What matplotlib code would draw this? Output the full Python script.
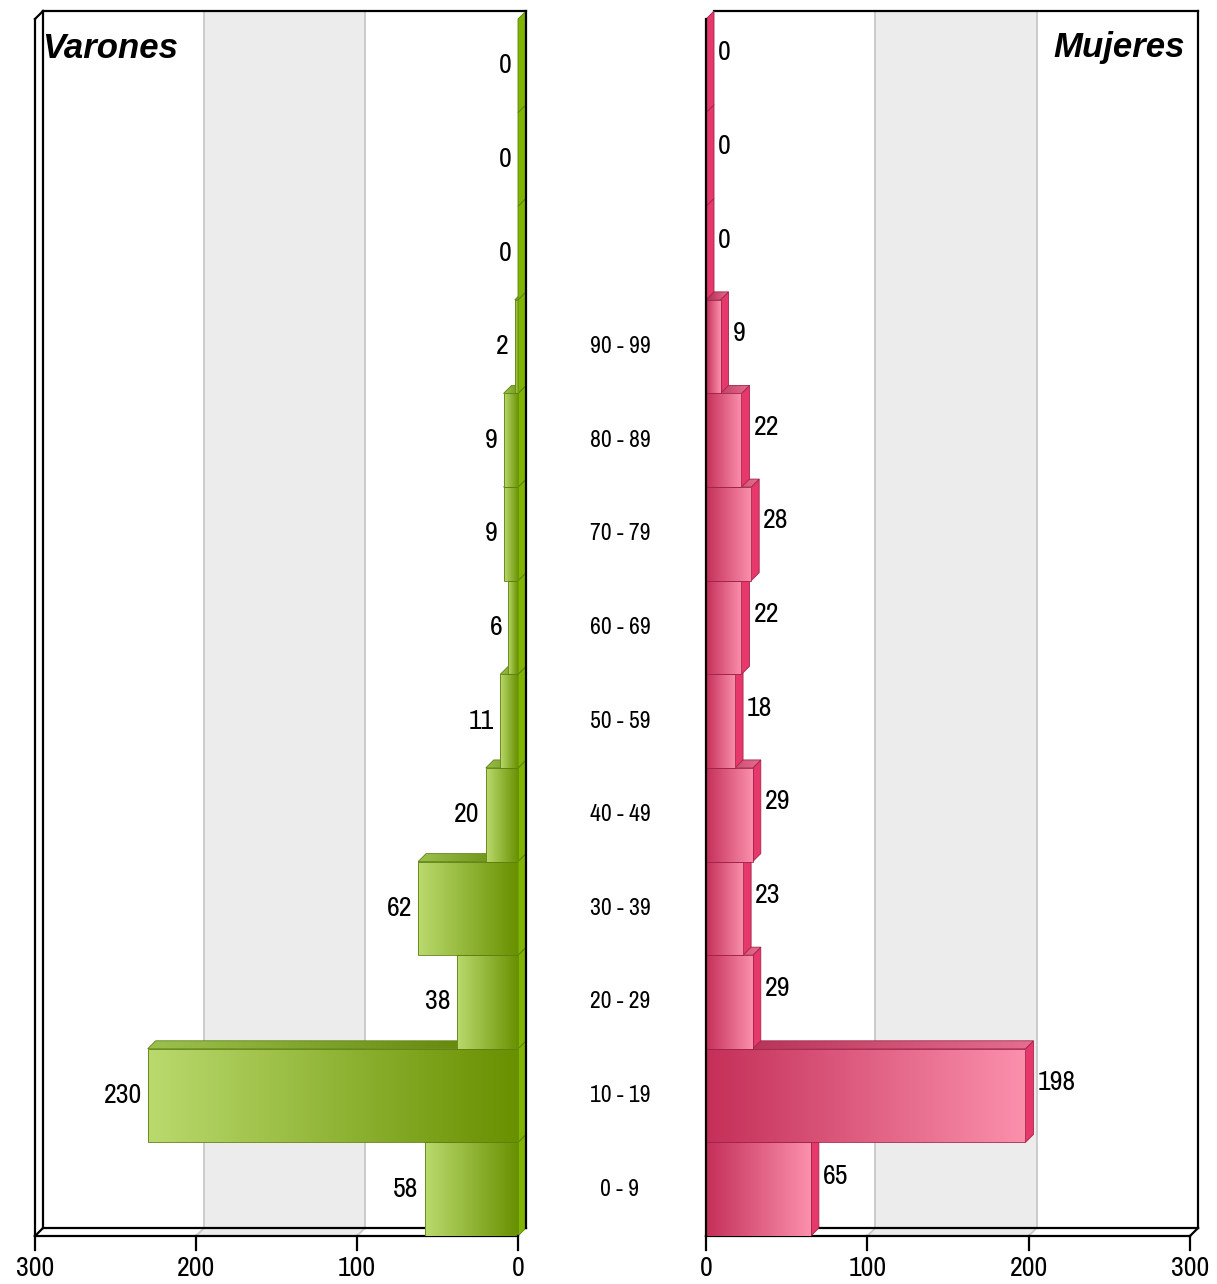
import numpy as np
import matplotlib
matplotlib.use("Agg")
import matplotlib.pyplot as plt
from matplotlib import font_manager
from matplotlib.font_manager import FontProperties
from matplotlib.patches import Polygon, Rectangle
from matplotlib.colors import to_rgb

# ---------------- data ----------------
categories = ['0 - 9', '10 - 19', '20 - 29', '30 - 39', '40 - 49', '50 - 59',
              '60 - 69', '70 - 79', '80 - 89', '90 - 99', '', '', '']
varones = [58, 230, 38, 62, 20, 11, 6, 9, 9, 2, 0, 0, 0]
mujeres = [65, 198, 29, 23, 29, 18, 22, 28, 22, 9, 0, 0, 0]
x_ticks = [0, 100, 200, 300]
title_left = 'Varones'
title_right = 'Mujeres'

# ---------------- fonts ----------------
entries = font_manager.fontManager.ttflist


def pick_font():
    bad = ('Serif', 'Mono', 'CJK')
    for f in entries:
        if f.name == 'Liberation Sans Narrow':
            return f.name, 'normal'
    for f in entries:
        if ('Narrow' in f.name) and not any(b in f.name for b in bad):
            return f.name, 'normal'
    for f in entries:
        if 'Condensed' in f.name and not any(b in f.name for b in bad):
            return f.name, 'normal'
    for f in entries:
        if str(f.stretch) in ('condensed', 'semi-condensed', 'extra-condensed') and \
                not any(b in f.name for b in bad):
            return f.name, str(f.stretch)
    return None, None


fam, stretch = pick_font()
NARROW = fam is not None
if NARROW:
    FAMILY = [fam, 'DejaVu Sans']
else:
    FAMILY = ['Liberation Sans', 'DejaVu Sans']
    stretch = 'normal'
plt.rcParams['font.family'] = FAMILY


def fp(size, weight='normal', style='normal'):
    return FontProperties(family=FAMILY, size=size, weight=weight, style=style, stretch=stretch)


VAL_FS = 20 if NARROW else 17
CAT_FS = 17 if NARROW else 14
TICK_FS = 20 if NARROW else 17
TITLE_PROPS = FontProperties(family=['Liberation Sans', 'DejaVu Sans'], size=25,
                             weight='bold', style='italic')

W, H = 1217, 1284
fig = plt.figure(figsize=(W / 100, H / 100), dpi=100)
fig.patch.set_facecolor('white')

FRONT_TOP, FRONT_BOT = 19, 1236
DEPTH = 8
NROWS = len(categories)
ROWPX = (FRONT_BOT - FRONT_TOP) / NROWS


def add_ax(x0, x1, y0, y1):
    return fig.add_axes([x0 / W, 1 - y1 / H, (x1 - x0) / W, (y1 - y0) / H])


def grad_img(c0, c1, n=256):
    a = np.array(to_rgb(c0)); b = np.array(to_rgb(c1))
    t = np.linspace(0, 1, n)[:, None]
    return (a * (1 - t) + b * t)[None, :, :]


def draw_panel(ax, values, side, front_c, top_c, side_c, edge_c):
    x0px, x1px = (35, 518) if side == 'left' else (706, 1190)
    ppu = (x1px - x0px) / 300.0
    sgn = -1 if side == 'left' else 1
    dxv = sgn * DEPTH / ppu
    dyr = DEPTH / ROWPX
    ylo, yhi = -0.5, NROWS - 0.5
    yb0, yb1 = ylo + dyr, yhi + dyr

    # back wall band and grid
    ax.add_patch(Rectangle((100 + dxv, yb0), 100, yb1 - yb0, facecolor='#ececec',
                           edgecolor='none', zorder=1, clip_on=False))
    ax.add_patch(Polygon([(100, ylo), (200, ylo), (200 + dxv, yb0), (100 + dxv, yb0)],
                         closed=True, facecolor='#ececec', edgecolor='none', zorder=1, clip_on=False))
    for g in (100, 200):
        ax.plot([g + dxv, g + dxv], [yb0, yb1], color='#c8c8c8', lw=1.3, zorder=2, clip_on=False)
        ax.plot([g, g + dxv], [ylo, yb0], color='#c8c8c8', lw=1.3, zorder=2, clip_on=False)

    k = dict(color='black', lw=1.6, clip_on=False, solid_capstyle='projecting')
    if side == 'left':
        ax.plot([300 + dxv, 0 + dxv], [yb1, yb1], zorder=3, **k)
        ax.plot([300 + dxv, 300 + dxv], [yb0, yb1], zorder=3, **k)
        ax.plot([300, 300], [ylo, yhi], zorder=3, **k)
        ax.plot([300, 300 + dxv], [yhi, yb1], zorder=3, **k)
        ax.plot([300, 300 + dxv], [ylo, yb0], zorder=3, **k)
        ax.plot([300 + dxv, 0 + dxv], [yb0, yb0], zorder=3, **k)
        ax.plot([300, 0], [ylo, ylo], zorder=3, **k)
        ax.plot([0 + dxv, 0 + dxv], [yb0, yb1], zorder=80, **k)
    else:
        ax.plot([0 + dxv, 300 + dxv], [yb1, yb1], zorder=3, **k)
        ax.plot([300 + dxv, 300 + dxv], [yb0, yb1], zorder=3, **k)
        ax.plot([300, 300 + dxv], [ylo, yb0], zorder=3, **k)
        ax.plot([0 + dxv, 300 + dxv], [yb0, yb0], zorder=3, **k)
        ax.plot([0, 300], [ylo, ylo], zorder=3, **k)
        ax.plot([0, 0], [ylo, yhi], zorder=80, **k)

    # ticks + labels
    tick_len = 14 / ROWPX
    for t in x_ticks:
        ax.plot([t, t], [ylo, ylo - tick_len], zorder=80, **k)
        ax.text(t, ylo - 32 / ROWPX, str(t), ha='center', va='center',
                fontproperties=fp(TICK_FS), color='black', clip_on=False)

    # bars
    bars = ax.barh(range(NROWS), values, height=1.0, left=0, color='none',
                   edgecolor='none', zorder=5)
    front_g = grad_img(*front_c)
    top_g = grad_img(*top_c)
    for i, (v, patch) in enumerate(zip(values, bars.patches)):
        z = 10 + 4 * i
        y0, y1 = i - 0.5, i + 0.5
        # side face
        sx = 0 if side == 'left' else v
        sp = Polygon([(sx, y0), (sx, y1), (sx + dxv, y1 + dyr), (sx + dxv, y0 + dyr)],
                     closed=True, facecolor=side_c, edgecolor=edge_c, lw=0.6,
                     zorder=z, clip_on=False)
        ax.add_patch(sp)
        if v > 0:
            # top face
            tp = Polygon([(0, y1), (v, y1), (v + dxv, y1 + dyr), (0 + dxv, y1 + dyr)],
                         closed=True, facecolor='none', edgecolor=edge_c, lw=0.6,
                         zorder=z + 2, clip_on=False)
            ax.add_patch(tp)
            ext = (v, dxv, y1, y1 + dyr) if side == 'left' else (0, v + dxv, y1, y1 + dyr)
            im = ax.imshow(top_g, extent=ext, aspect='auto', interpolation='bilinear',
                           zorder=z + 1, origin='lower')
            im.set_clip_path(tp)
            # front face
            ext = (v, 0, y0, y1) if side == 'left' else (0, v, y0, y1)
            im = ax.imshow(front_g, extent=ext, aspect='auto', interpolation='bilinear',
                           zorder=z + 2, origin='lower')
            im.set_clip_path(patch)
            patch.set_edgecolor(edge_c)
            patch.set_linewidth(0.6)
            patch.set_zorder(z + 3)
        # value label
        if side == 'left':
            ax.text(v + 6 / ppu, i, str(v), ha='right', va='center',
                    fontproperties=fp(VAL_FS), color='black', zorder=90)
        else:
            ax.text(v + dxv + 4 / ppu, i + 13 / ROWPX, str(v), ha='left', va='center',
                    fontproperties=fp(VAL_FS), color='black', zorder=90)

    if side == 'left':
        ax.set_xlim(300, 0)
    else:
        ax.set_xlim(0, 300)
    ax.set_ylim(ylo, yhi)
    ax.axis('off')


axL = add_ax(35, 518, FRONT_TOP, FRONT_BOT)
axR = add_ax(706, 1190, FRONT_TOP, FRONT_BOT)
axC = add_ax(540, 700, FRONT_TOP, FRONT_BOT)

draw_panel(axL, varones, 'left',
           front_c=('#bada6e', '#689000'), top_c=('#9cc24e', '#5a7e00'),
           side_c='#7fb500', edge_c='#5e8010')
draw_panel(axR, mujeres, 'right',
           front_c=('#c42f58', '#fb90ad'), top_c=('#b12a50', '#e56f90'),
           side_c='#e6386a', edge_c='#a3234a')

for i, c in enumerate(categories):
    if c:
        axC.text(0.5, i, c, ha='center', va='center', fontproperties=fp(CAT_FS), color='black')
axC.set_xlim(0, 1)
axC.set_ylim(-0.5, NROWS - 0.5)
axC.axis('off')

fig.text(42 / W, 1 - 48 / H, title_left, ha='left', va='center',
         fontproperties=TITLE_PROPS, color='black')
fig.text(1185 / W, 1 - 48 / H, title_right, ha='right', va='center',
         fontproperties=TITLE_PROPS, color='black')

fig.savefig('out.png', dpi=100, facecolor='white')
